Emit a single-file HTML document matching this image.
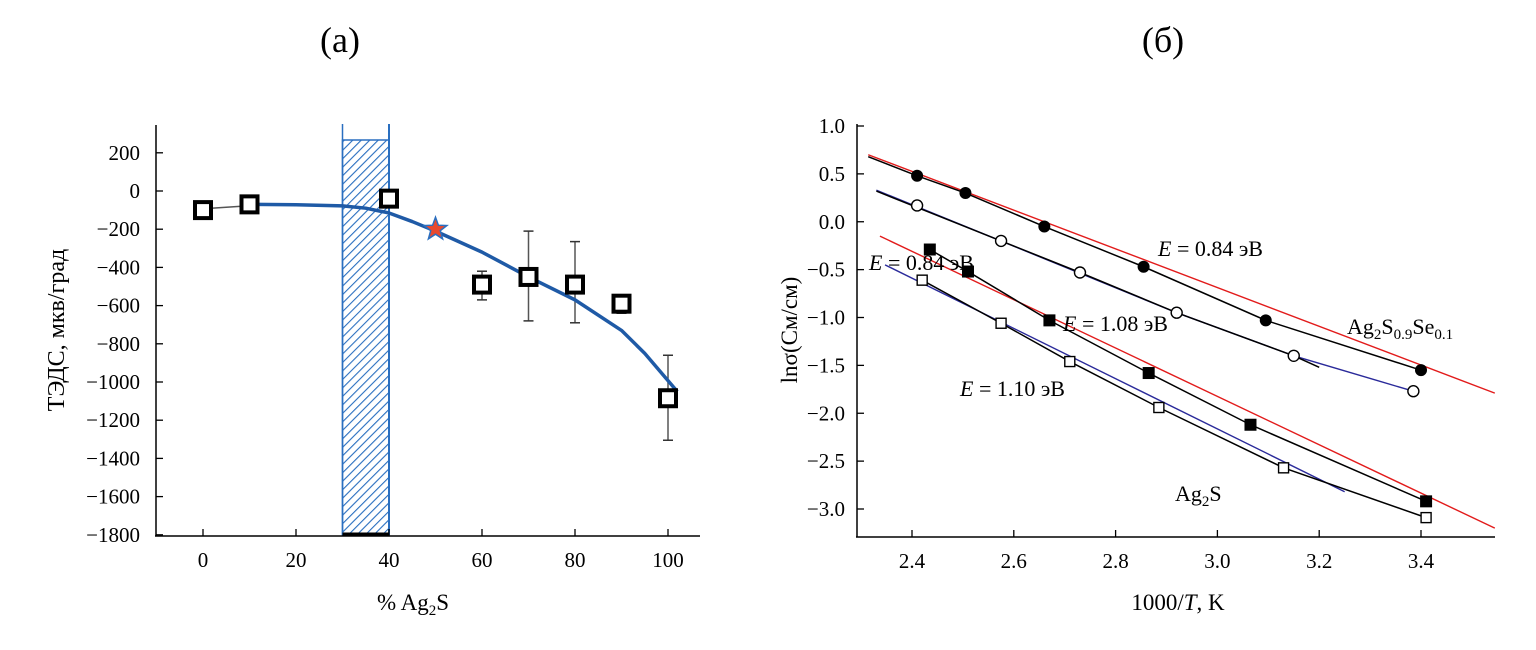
<!DOCTYPE html>
<html><head><meta charset="utf-8"><style>
body{margin:0;background:#fff;width:1536px;height:645px;overflow:hidden}
svg{font-family:"Liberation Serif","DejaVu Serif",serif}
</style></head><body>
<svg id="s" width="1536" height="645">
<defs><pattern id="hatch" width="6" height="6" patternUnits="userSpaceOnUse" patternTransform="rotate(45)"><rect width="6" height="6" fill="#fff"/><line x1="0" y1="0" x2="0" y2="6" stroke="#2a6fc0" stroke-width="2.2"/></pattern></defs>
<text x="340" y="52" font-size="36" text-anchor="middle">(а)</text>
<text x="1163" y="52" font-size="36" text-anchor="middle">(б)</text>
<g id="A"></g>
<g id="B"></g>
</svg>
<script>
// ---- Chart A data
const aX=[0,10,40,60,70,80,90,100];
const aY=[-100,-70,-40,-490,-450,-490,-590,-1085];
const aErrX=[60,70,80,90,100];
const aErrLo=[-570,-680,-690,-640,-1305];
const aErrHi=[-420,-210,-265,-575,-860];
const aCurveX=[10,20,30,35,40,45,50,55,60,70,80,90,95,102];
const aCurveY=[-70,-72,-78,-90,-115,-160,-210,-265,-320,-450,-570,-730,-850,-1050];
const aStar=[50,-200];
const aYTicks=[200,0,-200,-400,-600,-800,-1000,-1200,-1400,-1600,-1800];
const aXTicks=[0,20,40,60,80,100];
const aBand=[30,40];
// ---- Chart B data
const bXTicks=[2.4,2.6,2.8,3.0,3.2,3.4];
const bYTicks=[1.0,0.5,0.0,-0.5,-1.0,-1.5,-2.0,-2.5,-3.0];
const fcX=[2.41,2.505,2.66,2.855,3.095,3.4], fcY=[0.48,0.3,-0.05,-0.47,-1.03,-1.55];
const ocX=[2.41,2.575,2.73,2.92,3.15,3.385], ocY=[0.17,-0.2,-0.53,-0.95,-1.4,-1.77];
const fsX=[2.435,2.51,2.67,2.865,3.065,3.41], fsY=[-0.29,-0.52,-1.03,-1.58,-2.12,-2.92];
const osX=[2.42,2.575,2.71,2.885,3.13,3.41], osY=[-0.61,-1.06,-1.46,-1.94,-2.57,-3.09];
const redTopX=[2.314,3.545], redTopY=[0.70,-1.79];
const redLowX=[2.337,3.545], redLowY=[-0.15,-3.2];
const blueTopX=[2.33,2.92,3.15,3.385], blueTopY=[0.33,-0.95,-1.4,-1.77];
const blueLowX=[2.347,3.25], blueLowY=[-0.45,-2.82];

const NS="http://www.w3.org/2000/svg";
function el(p,t,a){const e=document.createElementNS(NS,t);for(const k in a)e.setAttribute(k,a[k]);p.appendChild(e);return e;}
const fmt=v=>(v<0?'\u2212':'')+Math.abs(v);
// Chart A
const A=document.getElementById('A');
const ax=v=>203+4.65*v, ay=v=>191-v*0.191;
let e;
e=el(A,'rect',{x:ax(aBand[0]),y:140,width:ax(aBand[1])-ax(aBand[0]),height:535-140,fill:'url(#hatch)',stroke:'#2a6fc0','stroke-width':1.5});


e=el(A,'line',{x1:ax(aBand[0]),y1:124,x2:ax(aBand[0]),y2:535,stroke:'#2a6fc0','stroke-width':1.5});
e=el(A,'line',{x1:ax(aBand[1]),y1:124,x2:ax(aBand[1]),y2:535,stroke:'#2a6fc0','stroke-width':2});
e=el(A,'line',{x1:ax(aBand[0]),y1:534,x2:ax(aBand[1]),y2:534,stroke:'#000','stroke-width':3});
el(A,'line',{x1:156,y1:125,x2:156,y2:536,stroke:'#000','stroke-width':1.5});
el(A,'line',{x1:155,y1:536,x2:700,y2:536,stroke:'#000','stroke-width':1.5});
aYTicks.forEach(v=>{el(A,'line',{x1:156,y1:ay(v),x2:163,y2:ay(v),stroke:'#000','stroke-width':1.3});
 e=el(A,'text',{x:140,y:ay(v)+7,'font-size':21,'text-anchor':'end'});e.textContent=fmt(v);
 });
aXTicks.forEach(v=>{el(A,'line',{x1:ax(v),y1:536,x2:ax(v),y2:529,stroke:'#000','stroke-width':1.3});
 e=el(A,'text',{x:ax(v),y:567,'font-size':21,'text-anchor':'middle'});e.textContent=v;
 });
e=el(A,'text',{x:413,y:610,'font-size':23,'text-anchor':'middle'});e.innerHTML='% Ag<tspan font-size="15" dy="5">2</tspan><tspan dy="-5">S</tspan>';

e=el(A,'text',{transform:'translate(64,330) rotate(-90)','font-size':24,'text-anchor':'middle'});e.textContent='ТЭДС, мкв/град';

el(A,'line',{x1:ax(aX[0])+10,y1:ay(aY[0])-2,x2:ax(aX[1])-10,y2:ay(aY[1])+2,stroke:'#555','stroke-width':1.5});
aErrX.forEach((x,i)=>{el(A,'line',{x1:ax(x),y1:ay(aErrLo[i]),x2:ax(x),y2:ay(aErrHi[i]),stroke:'#555','stroke-width':1.5});
 [aErrLo[i],aErrHi[i]].forEach(v=>el(A,'line',{x1:ax(x)-5,y1:ay(v),x2:ax(x)+5,y2:ay(v),stroke:'#333','stroke-width':1.5}));});
let d=aCurveX.map((x,i)=>(i?'L':'M')+ax(x)+','+ay(aCurveY[i])).join(' ');
e=el(A,'path',{d:d,fill:'none',stroke:'#1f5aa6','stroke-width':3.5,'stroke-linejoin':'round'});

aX.forEach((x,i)=>{e=el(A,'rect',{x:ax(x)-8,y:ay(aY[i])-8,width:16,height:16,fill:'#fff',stroke:'#000','stroke-width':4});
 });
{const cx=ax(aStar[0]),cy=ay(aStar[1]);let p=[];for(let k=0;k<10;k++){const r=k%2?5:12,t=-Math.PI/2+k*Math.PI/5;p.push((cx+r*Math.cos(t)).toFixed(1)+','+(cy+r*Math.sin(t)).toFixed(1));}
 e=el(A,'polygon',{points:p.join(' '),fill:'#e8492e',stroke:'#2a6fc0','stroke-width':1.5});
 }
// Chart B
const B=document.getElementById('B');
const bx=v=>912+(v-2.4)*509, by=v=>126+(1-v)*95.75;
el(B,'line',{x1:857,y1:124,x2:857,y2:537,stroke:'#000','stroke-width':1.5});
el(B,'line',{x1:856,y1:537,x2:1495,y2:537,stroke:'#000','stroke-width':1.5});
bYTicks.forEach(v=>{el(B,'line',{x1:857,y1:by(v),x2:864,y2:by(v),stroke:'#000','stroke-width':1.3});
 e=el(B,'text',{x:845,y:by(v)+7,'font-size':21,'text-anchor':'end'});e.textContent=(v<0?'\u2212':'')+Math.abs(v).toFixed(1);
 });
bXTicks.forEach(v=>{el(B,'line',{x1:bx(v),y1:537,x2:bx(v),y2:530,stroke:'#000','stroke-width':1.3});
 e=el(B,'text',{x:bx(v),y:568,'font-size':21,'text-anchor':'middle'});e.textContent=v.toFixed(1);
 });
e=el(B,'text',{x:1178,y:610,'font-size':23,'text-anchor':'middle'});e.innerHTML='1000/<tspan font-style="italic">T</tspan>, K';

e=el(B,'text',{transform:'translate(797,330) rotate(-90)','font-size':23,'text-anchor':'middle'});e.textContent='lnσ(См/см)';

function pl(X,Y,c,w,n){const d=X.map((x,i)=>(i?'L':'M')+bx(x)+','+by(Y[i])).join(' ');const e=el(B,'path',{d:d,fill:'none',stroke:c,'stroke-width':w});}
pl(redTopX,redTopY,'#e21b1b',1.4,'fit-line-top');
pl(redLowX,redLowY,'#e21b1b',1.4,'fit-line-low');
pl(blueTopX,blueTopY,'#2a2a9a',1.4,'blue-line-top');
pl(blueLowX,blueLowY,'#2a2a9a',1.4,'blue-line-low');
pl([2.314].concat(fcX),[0.68].concat(fcY),'#000',1.5,'line-filled-circles');
pl([2.33].concat(ocX.slice(1,5)).concat([3.2]),[0.32].concat(ocY.slice(1,5)).concat([-1.52]),'#000',1.5,'line-open-circles');
pl(fsX,fsY,'#000',1.5,'line-filled-squares');
pl(osX,osY,'#000',1.5,'line-open-squares');
fcX.forEach((x,i)=>{e=el(B,'circle',{cx:bx(x),cy:by(fcY[i]),r:6,fill:'#000'});});
ocX.forEach((x,i)=>{e=el(B,'circle',{cx:bx(x),cy:by(ocY[i]),r:5.5,fill:'#fff',stroke:'#000','stroke-width':1.4});});
fsX.forEach((x,i)=>{e=el(B,'rect',{x:bx(x)-6,y:by(fsY[i])-6,width:12,height:12,fill:'#000'});});
osX.forEach((x,i)=>{e=el(B,'rect',{x:bx(x)-5,y:by(osY[i])-5,width:10,height:10,fill:'#fff',stroke:'#000','stroke-width':1.4});});
function lab(x,y,html,n){const e=el(B,'text',{x:x,y:y,'font-size':22});e.innerHTML=html;}
lab(1158,256,'<tspan font-style="italic">E</tspan> = 0.84 эВ','label-e084-top');
lab(869,270,'<tspan font-style="italic">E</tspan> = 0.84 эВ','label-e084-left');
lab(1063,331,'<tspan font-style="italic">E</tspan> = 1.08 эВ','label-e108');
lab(960,396,'<tspan font-style="italic">E</tspan> = 1.10 эВ','label-e110');
lab(1347,334,'Ag<tspan font-size="15" dy="5">2</tspan><tspan dy="-5">S</tspan><tspan font-size="15" dy="5">0.9</tspan><tspan dy="-5">Se</tspan><tspan font-size="15" dy="5">0.1</tspan>','label-ag2s-se');
lab(1175,501,'Ag<tspan font-size="15" dy="5">2</tspan><tspan dy="-5">S</tspan>','label-ag2s');
</script>
</body></html>
